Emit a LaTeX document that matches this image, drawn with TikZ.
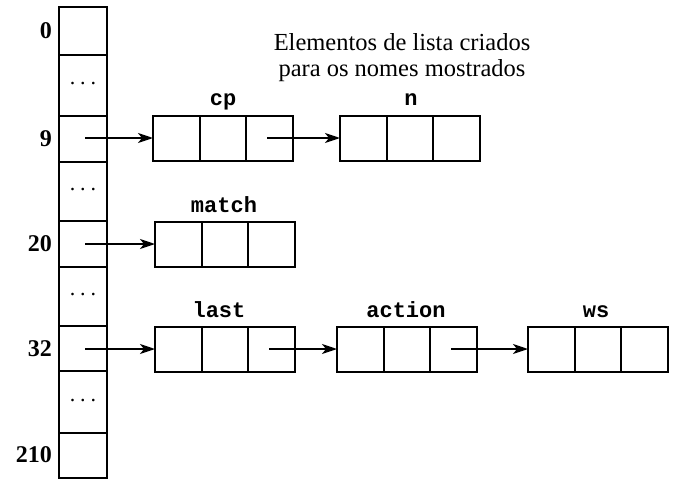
\documentclass[tikz,border=0pt]{standalone}
\usepackage{fontspec}
\setmainfont{Liberation Serif}
\setmonofont{Liberation Mono}
\usetikzlibrary{arrows.meta,positioning}
\begin{document}
\begin{tikzpicture}[x=1pt,y=-1pt,
  colcell/.style={draw,line width=2pt,minimum width=48pt,inner sep=0pt,outer sep=0pt,anchor=north west,font=\fontsize{22}{22}\selectfont},
  lcell/.style={draw,line width=2pt,minimum width=46.5pt,minimum height=45pt,inner sep=0pt,outer sep=0pt},
  idx/.style={font=\fontsize{24}{24}\selectfont\bfseries,anchor=east,inner sep=0pt},
  nm/.style={font=\fontsize{22}{22}\selectfont\ttfamily\bfseries,inner sep=0pt,anchor=base},
  arr/.style={line width=1.8pt,-{Stealth[length=15pt,width=10pt,inset=4pt]}}]
\useasboundingbox (0,0) rectangle (674,479);
% column
\node[colcell,minimum height=48pt] (c0) at (59,7) {};
\node[colcell,minimum height=61pt] (d1) at (59,55) {\raisebox{4pt}{.\hspace{5pt}.\hspace{5pt}.}};
\node[colcell,minimum height=46pt] (c9) at (59,116) {};
\node[colcell,minimum height=59pt] (d2) at (59,162) {\raisebox{4pt}{.\hspace{5pt}.\hspace{5pt}.}};
\node[colcell,minimum height=46pt] (c20) at (59,221) {};
\node[colcell,minimum height=59pt] (d3) at (59,267) {\raisebox{4pt}{.\hspace{5pt}.\hspace{5pt}.}};
\node[colcell,minimum height=45pt] (c32) at (59,326) {};
\node[colcell,minimum height=62pt] (d4) at (59,371) {\raisebox{4pt}{.\hspace{5pt}.\hspace{5pt}.}};
\node[colcell,minimum height=45pt] (c210) at (59,433) {};
% index labels
\node[idx] (l0) at (52,31) {0};
\node[idx] (l9) at (52,139) {9};
\node[idx] (l20) at (52,244) {20};
\node[idx] (l32) at (52,349) {32};
\node[idx] (l210) at (52,455) {210};
% header
\node[font=\fontsize{24.5}{26}\selectfont,align=center] (hdr) at (402,58) {Elementos de lista criados\\para os nomes mostrados};
% lists
\newcommand{\mklist}[3]{%
  \node[lcell,anchor=west] (#1a) at (#2,#3) {};
  \node[lcell,anchor=west] (#1b) at (#1a.east) {};
  \node[lcell,anchor=west] (#1c) at (#1b.east) {};}
\mklist{cp}{153}{138}
\mklist{n}{340}{138}
\mklist{match}{155}{244}
\mklist{last}{155}{349}
\mklist{action}{337}{349}
\mklist{ws}{528}{349}
% names
\node[nm] (tcp) at (223,105) {cp};
\node[nm] (tn) at (411,105) {n};
\node[nm] (tmatch) at (224,212) {match};
\node[nm] (tlast) at (219,317) {last};
\node[nm] (taction) at (406,317) {action};
\node[nm] (tws) at (596,317) {ws};
% arrows
\draw[arr] ([xshift=2pt]cpa.west -| c9.center) -- (cpa.west);
\draw[arr] ([xshift=2pt]matcha.west -| c20.center) -- (matcha.west);
\draw[arr] ([xshift=2pt]lasta.west -| c32.center) -- (lasta.west);
\draw[arr] ([xshift=-2pt]cpc.center) -- (na.west);
\draw[arr] ([xshift=-2pt]lastc.center) -- (actiona.west);
\draw[arr] ([xshift=-2pt]actionc.center) -- (wsa.west);
\end{tikzpicture}
\end{document}
